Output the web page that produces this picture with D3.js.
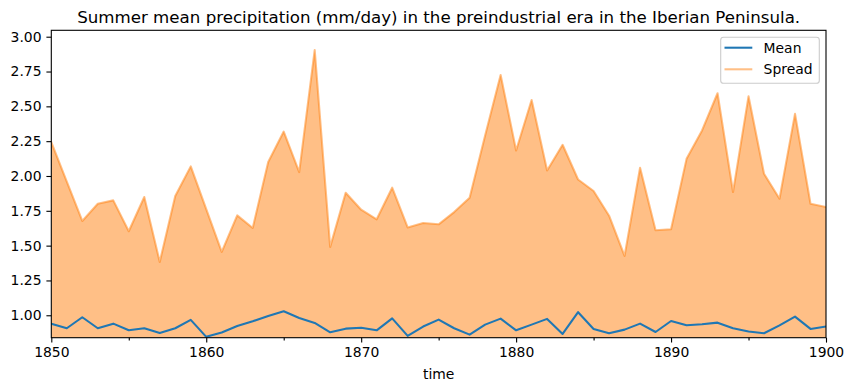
<!DOCTYPE html>
<html>
<head>
<meta charset="utf-8">
<script src="https://cdn.jsdelivr.net/npm/d3@7"></script>
<style>
  body { margin: 0; background: #fff; }
  svg { display: block; font-family: "DejaVu Sans", sans-serif; }
</style>
</head>
<body>
<svg id="chart" width="853" height="391"></svg>
<script>
const years = d3.range(1850, 1901);
const meanValues = [
  0.940, 0.907, 0.986, 0.907, 0.940, 0.892, 0.907, 0.873, 0.907, 0.967,
  0.845, 0.876, 0.923, 0.957, 0.995, 1.029, 0.981, 0.945, 0.878, 0.904,
  0.911, 0.892, 0.978, 0.852, 0.919, 0.969, 0.907, 0.861, 0.933, 0.976,
  0.892, 0.933, 0.974, 0.866, 1.022, 0.902, 0.871, 0.897, 0.940, 0.880,
  0.959, 0.928, 0.935, 0.947, 0.907, 0.883, 0.871, 0.928, 0.990, 0.902,
  0.919
];
const spreadValues = [
  2.243, 1.960, 1.677, 1.801, 1.825, 1.603, 1.849, 1.383, 1.856, 2.069,
  1.762, 1.455, 1.717, 1.627, 2.100, 2.319, 2.028, 2.904, 1.491, 1.880,
  1.758, 1.689, 1.916, 1.631, 1.663, 1.653, 1.741, 1.844, 2.290, 2.725,
  2.183, 2.546, 2.040, 2.224, 1.975, 1.892, 1.715, 1.426, 2.059, 1.610,
  1.617, 2.123, 2.327, 2.594, 1.885, 2.572, 2.016, 1.837, 2.446, 1.801,
  1.777
];
const xTicks = [1850, 1860, 1870, 1880, 1890, 1900];
const xMinorTicks = [1855, 1865, 1875, 1885, 1895];
const yTicks = [1.00, 1.25, 1.50, 1.75, 2.00, 2.25, 2.50, 2.75, 3.00];
const titleText = "Summer mean precipitation (mm/day) in the preindustrial era in the Iberian Peninsula.";
const xLabel = "time";
const seriesNames = ["Mean", "Spread"];

const pLeft = 51.3, pRight = 826, pTop = 30.3, pBottom = 337.7;
const svg = d3.select("#chart");
const x = d3.scaleLinear().domain([1850, 1900]).range([pLeft, pRight]);
const y = d3.scaleLinear().domain([0.839, 3.046]).range([pBottom, pTop]);

const orange = "#ff7f0e", blue = "#1f77b4";
const fs = 13.9;

svg.append("defs").append("clipPath").attr("id", "clip")
  .append("rect").attr("x", pLeft).attr("y", pTop).attr("width", pRight - pLeft).attr("height", pBottom - pTop);

const g = svg.append("g").attr("clip-path", "url(#clip)");

const area = d3.area()
  .x((d, i) => x(years[i]))
  .y0(() => y(0))
  .y1(d => y(d));
g.append("path").datum(spreadValues)
  .attr("d", area).attr("fill", orange).attr("fill-opacity", 0.5).attr("stroke", "none");

const line = d3.line().x((d, i) => x(years[i])).y(d => y(d));
g.append("path").datum(spreadValues)
  .attr("d", line).attr("fill", "none").attr("stroke", orange).attr("stroke-opacity", 0.5)
  .attr("stroke-width", 2.08).attr("stroke-linejoin", "round").attr("stroke-linecap", "square");
g.append("path").datum(meanValues)
  .attr("d", line).attr("fill", "none").attr("stroke", blue)
  .attr("stroke-width", 2.08).attr("stroke-linejoin", "round").attr("stroke-linecap", "square");

// Axes
const xAxis = d3.axisBottom(x).tickValues(xTicks).tickFormat(d3.format("d")).tickSize(4.9).tickPadding(4.9);
const xa = svg.append("g").attr("transform", `translate(0,${pBottom})`).call(xAxis);
const xMinor = d3.axisBottom(x).tickValues(xMinorTicks).tickFormat("").tickSize(2.8);
const xm = svg.append("g").attr("transform", `translate(0,${pBottom})`).call(xMinor);
const yAxis = d3.axisLeft(y).tickValues(yTicks).tickFormat(d3.format(".2f")).tickSize(4.9).tickPadding(4.9);
const ya = svg.append("g").attr("transform", `translate(${pLeft},0)`).call(yAxis);
[xa, xm, ya].forEach(a => {
  a.select(".domain").remove();
  a.selectAll("line").attr("stroke", "#000").attr("stroke-width", 1.1);
  a.selectAll("text").attr("fill", "#000").style("font-size", fs + "px").style("font-family", "DejaVu Sans");
});

// Spines
svg.append("rect").attr("x", pLeft).attr("y", pTop).attr("width", pRight - pLeft).attr("height", pBottom - pTop)
  .attr("fill", "none").attr("stroke", "#000").attr("stroke-width", 1.1);

// Title
svg.append("text").attr("x", (pLeft + pRight) / 2).attr("y", 22.5).attr("text-anchor", "middle")
  .style("font-size", "16.67px").attr("fill", "#000").text(titleText);

// x label
svg.append("text").attr("x", (pLeft + pRight) / 2).attr("y", 378.5).attr("text-anchor", "middle")
  .style("font-size", fs + "px").attr("fill", "#000").text(xLabel);

// Legend
const lg = svg.append("g");
lg.append("rect").attr("x", 720.7).attr("y", 37.3).attr("width", 98.6).attr("height", 46)
  .attr("rx", 2.8).attr("fill", "#fff").attr("fill-opacity", 0.8).attr("stroke", "#cccccc").attr("stroke-width", 1.1);
const legendItems = [
  { name: seriesNames[0], color: blue, opacity: 1, y: 47.7 },
  { name: seriesNames[1], color: orange, opacity: 0.5, y: 69.3 }
];
legendItems.forEach(it => {
  lg.append("line").attr("x1", 724.5).attr("x2", 752.3).attr("y1", it.y).attr("y2", it.y)
    .attr("stroke", it.color).attr("stroke-opacity", it.opacity).attr("stroke-width", 2.08);
  lg.append("text").attr("x", 763.6).attr("y", it.y + 5).style("font-size", fs + "px")
    .attr("fill", "#000").text(it.name);
});
</script>
</body>
</html>
